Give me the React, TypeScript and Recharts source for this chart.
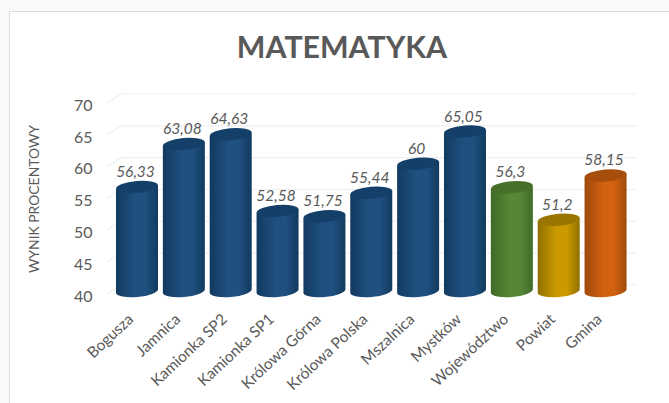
import React from 'react';
import { BarChart, Bar, XAxis, YAxis, CartesianGrid, LabelList } from 'recharts';

const categories = ['Bogusza', 'Jamnica', 'Kamionka SP2', 'Kamionka SP1', 'Królowa Górna', 'Królowa Polska', 'Mszalnica', 'Mystków', 'Województwo', 'Powiat', 'Gmina'];
const scores = [56.33, 63.08, 64.63, 52.58, 51.75, 55.44, 60, 65.05, 56.3, 51.2, 58.15];
const kinds = ['blue', 'blue', 'blue', 'blue', 'blue', 'blue', 'blue', 'blue', 'green', 'yellow', 'orange'];
const yTicks = [40, 45, 50, 55, 60, 65, 70];

const palette: Record<string, { edge: string; mid: string; cap: string }> = {
  blue: { edge: '#123a5f', mid: '#1f5080', cap: '#133f69' },
  green: { edge: '#3f6a26', mid: '#568736', cap: '#47702a' },
  yellow: { edge: '#8f7000', mid: '#cc9a00', cap: '#9a7600' },
  orange: { edge: '#a04a0c', mid: '#d26110', cap: '#a84e0c' },
};

const chartData = categories.map((name, i) => ({ name, score: scores[i], kind: kinds[i] }));

const textColor = '#595959';
const fontFamily = 'Lato, sans-serif';

// walec: korpus z gradientem i ciemniejsza pokrywa u gory
const Cylinder = (props: any) => {
  const { x, y, width, height, payload } = props;
  const rx = width / 2;
  const ry = 6;
  const tilt = 1.8;
  const base = y + height;
  const body = `M${x},${y + tilt} L${x},${base + tilt} A${rx},${ry} -5 0 0 ${x + width},${base - tilt} L${x + width},${y - tilt} Z`;
  return (
    <g>
      <path d={body} fill={`url(#cyl-${payload.kind})`} />
      <ellipse cx={x + rx} cy={y} rx={rx} ry={ry} fill={palette[payload.kind].cap} transform={`rotate(-5 ${x + rx} ${y})`} />
    </g>
  );
};

// linia siatki: skos na scianie bocznej i pozioma na tylnej
const GridLine = (props: any) => {
  const { x1, y1, x2 } = props;
  return (
    <path
      key={props.key ?? y1}
      d={`M${x1 - 7},${y1 + 3} L${x1 + 7},${y1 - 6} L${x2 + 7},${y1 - 6}`}
      fill="none"
      stroke="#efefef"
      strokeWidth={1.2}
    />
  );
};

const CategoryTick = (props: any) => (
  <text
    transform={`translate(${props.x - 3},${props.y + 10.5}) rotate(-43)`}
    textAnchor="end"
    fill={textColor}
    fontSize={15.4}
    fontFamily={fontFamily}
  >
    {props.payload.value}
  </text>
);

export default function App() {
  return (
    <div style={{ position: 'absolute', left: 0, top: 0, width: 669, height: 403, background: '#fafafa', overflow: 'hidden' }}>
      <div style={{ position: 'absolute', left: 9, top: 11, width: 680, height: 420, background: '#fff', border: '1.5px solid #dcdcdc', boxSizing: 'border-box' }} />
      <div style={{ position: 'absolute', left: 0, top: 0 }}>
        <BarChart
          width={669}
          height={403}
          data={chartData}
          barSize={42}
          margin={{ top: 100, right: 39.6, bottom: 0, left: 0 }}
        >
          <defs>
            {Object.keys(palette).map((k) => (
              <linearGradient key={k} id={`cyl-${k}`} x1="0" y1="0" x2="1" y2="0">
                <stop offset="0%" stopColor={palette[k].edge} />
                <stop offset="45%" stopColor={palette[k].mid} />
                <stop offset="70%" stopColor={palette[k].mid} />
                <stop offset="100%" stopColor={palette[k].edge} />
              </linearGradient>
            ))}
          </defs>
          <text x={342} y={58} textAnchor="middle" fontFamily={fontFamily} fontWeight={700} fontSize={30.3} fill={textColor}>
            MATEMATYKA
          </text>
          <text
            x={39}
            y={199}
            textAnchor="middle"
            fontFamily={fontFamily}
            fontSize={13.9}
            fill={textColor}
            transform="rotate(-90 39 199)"
          >
            WYNIK PROCENTOWY
          </text>
          <CartesianGrid vertical={false} horizontal={GridLine} />
          <XAxis
            dataKey="name"
            interval={0}
            height={112}
            axisLine={false}
            tickLine={false}
            tickSize={0}
            tickMargin={19}
            tick={<CategoryTick />}
          />
          <YAxis
            width={114}
            domain={[40, 70]}
            ticks={yTicks}
            axisLine={false}
            tickLine={false}
            tickSize={0}
            tickMargin={21.5}
            dy={5}
            tick={{ fill: textColor, fontSize: 16, fontFamily }}
          />
          <Bar dataKey="score" shape={<Cylinder />} isAnimationActive={false}>
            <LabelList
              dataKey="score"
              position="top"
              offset={10}
              dx={-1.5}
              formatter={(v: any) => String(v).replace('.', ',')}
              style={{ fill: textColor, fontSize: 15.5, fontStyle: 'italic', fontFamily }}
            />
          </Bar>
        </BarChart>
      </div>
    </div>
  );
}
